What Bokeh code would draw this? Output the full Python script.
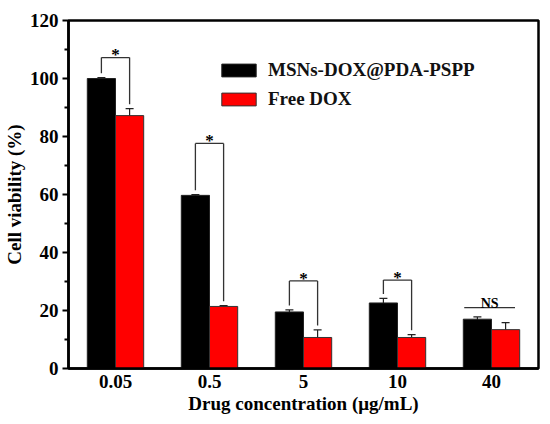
from bokeh.plotting import figure
from bokeh.models import (Range1d, FixedTicker, ColumnDataSource, Whisker, TeeHead,
                          Legend, LegendItem)
from bokeh.core.properties import value
from bokeh.embed import file_html
from bokeh.resources import INLINE

# ---- data ----
categories = ["0.05", "0.5", "5", "10", "40"]
series_names = ["MSNs-DOX@PDA-PSPP", "Free DOX"]
msn_values = [100.0, 59.7, 19.5, 22.6, 17.0]
msn_errors = [0.3, 0.3, 0.7, 1.6, 0.8]
free_values = [87.2, 21.4, 10.7, 10.7, 13.4]
free_errors = [2.4, 0.3, 2.6, 1.0, 2.4]
sig_labels = ["*", "*", "*", "*", "NS"]
sig_heights = [107.2, 77.6, 30.2, 30.5, 21.0]
y_ticks = [0, 20, 40, 60, 80, 100, 120]

FONT = "Liberation Serif"
BAR_W = 0.3
OFF = 0.15
GAP = 1.5

centers = [i + 0.5 for i in range(len(categories))]
x_msn = [c - OFF for c in centers]
x_free = [c + OFF for c in centers]

p = figure(width=540, height=416, output_backend="svg", toolbar_location=None,
           x_range=Range1d(0, len(categories)), y_range=Range1d(0, 120),
           min_border_left=68, min_border_right=2, min_border_top=20, min_border_bottom=48)
p.xgrid.visible = False
p.ygrid.visible = False
p.outline_line_color = "black"
p.outline_line_width = 2.5
p.background_fill_color = "white"
p.border_fill_color = "white"

src_m = ColumnDataSource(dict(x=x_msn, top=msn_values,
                              up=[v + e for v, e in zip(msn_values, msn_errors)],
                              lo=[v - e for v, e in zip(msn_values, msn_errors)]))
src_f = ColumnDataSource(dict(x=x_free, top=free_values,
                              up=[v + e for v, e in zip(free_values, free_errors)],
                              lo=[v - e for v, e in zip(free_values, free_errors)]))

r_m = p.vbar(x="x", top="top", bottom=0, width=BAR_W, source=src_m,
             fill_color="#000000", line_color="#222222", line_width=1)
r_f = p.vbar(x="x", top="top", bottom=0, width=BAR_W, source=src_f,
             fill_color="#ff0000", line_color="#333333", line_width=1)

for src in (src_m, src_f):
    w = Whisker(base="x", upper="up", lower="lo", source=src,
                line_color="#222222", line_width=1.2,
                upper_head=TeeHead(size=8, line_color="#222222", line_width=1.2),
                lower_head=TeeHead(size=8, line_color="#222222", line_width=1.2))
    p.add_layout(w)

# significance brackets
bx0, bx1, by0, by1 = [], [], [], []
sx, sy, stext = [], [], []
nx0, nx1, ny = [], [], []
nsx, nsy, nstext = [], [], []
for i, lab in enumerate(sig_labels):
    h = sig_heights[i]
    if lab == "*":
        lb = msn_values[i] + msn_errors[i] + GAP
        rb = free_values[i] + free_errors[i] + GAP
        bx0 += [x_msn[i], x_free[i], x_msn[i]]
        bx1 += [x_msn[i], x_free[i], x_free[i]]
        by0 += [lb, rb, h]
        by1 += [h, h, h]
        sx.append(centers[i]); sy.append(h + 1.0); stext.append(lab)
    else:
        nx0.append(centers[i] - 0.29); nx1.append(centers[i] + 0.25); ny.append(h)
        nsx.append(centers[i] - 0.02); nsy.append(h + 1.4); nstext.append(lab)

p.segment(x0=bx0, y0=by0, x1=bx1, y1=by1, line_color="#333333", line_width=1.3)
p.segment(x0=nx0, y0=ny, x1=nx1, y1=ny, line_color="#333333", line_width=1.3)
p.text(x=sx, y=sy, text=stext, text_font=value(FONT), text_font_style="bold",
       text_font_size="17px", text_align="center", text_baseline="alphabetic", text_color="black")
p.text(x=nsx, y=nsy, text=nstext, text_font=value(FONT), text_font_style="bold",
       text_font_size="14px", text_align="center", text_baseline="alphabetic", text_color="black")

# axes
ya = p.yaxis[0]
ya.ticker = FixedTicker(ticks=y_ticks, minor_ticks=[10, 30, 50, 70, 90, 110])
ya.axis_line_width = 2.5
ya.major_tick_line_width = 2
ya.minor_tick_line_width = 2
ya.major_tick_out = 6
ya.major_tick_in = 0
ya.minor_tick_out = 4
ya.minor_tick_in = 0
ya.major_label_standoff = 4
ya.major_label_text_font = FONT
ya.major_label_text_font_style = "bold"
ya.major_label_text_font_size = "19px"
ya.major_label_text_color = "black"
ya.axis_label = "Cell viability (%)"
ya.axis_label_text_font = FONT
ya.axis_label_text_font_style = "bold"
ya.axis_label_text_font_size = "19px"
ya.axis_label_text_color = "black"
ya.axis_label_standoff = 2

xa = p.xaxis[0]
xa.ticker = FixedTicker(ticks=centers)
xa.major_label_overrides = {c: lab for c, lab in zip(centers, categories)}
xa.axis_line_width = 2.5
xa.major_tick_line_color = None
xa.minor_tick_line_color = None
xa.major_tick_out = 0
xa.major_tick_in = 0
xa.major_label_standoff = 6
xa.major_label_text_font = FONT
xa.major_label_text_font_style = "bold"
xa.major_label_text_font_size = "19px"
xa.major_label_text_color = "black"
xa.axis_label = "Drug concentration (\u03bcg/mL)"
xa.axis_label_text_font = FONT
xa.axis_label_text_font_style = "bold"
xa.axis_label_text_font_size = "19px"
xa.axis_label_text_color = "black"
xa.axis_label_standoff = 2

legend = Legend(items=[LegendItem(label=series_names[0], renderers=[r_m]),
                       LegendItem(label=series_names[1], renderers=[r_f])],
                location=(149, 258), padding=0, margin=0, spacing=7,
                glyph_width=43, glyph_height=16, label_height=16,
                label_standoff=8,
                label_text_font=FONT, label_text_font_style="bold",
                label_text_font_size="19px", label_text_color="#111111",
                border_line_color=None, background_fill_alpha=0)
p.add_layout(legend)

open("out.html", "w").write(file_html(p, INLINE))
